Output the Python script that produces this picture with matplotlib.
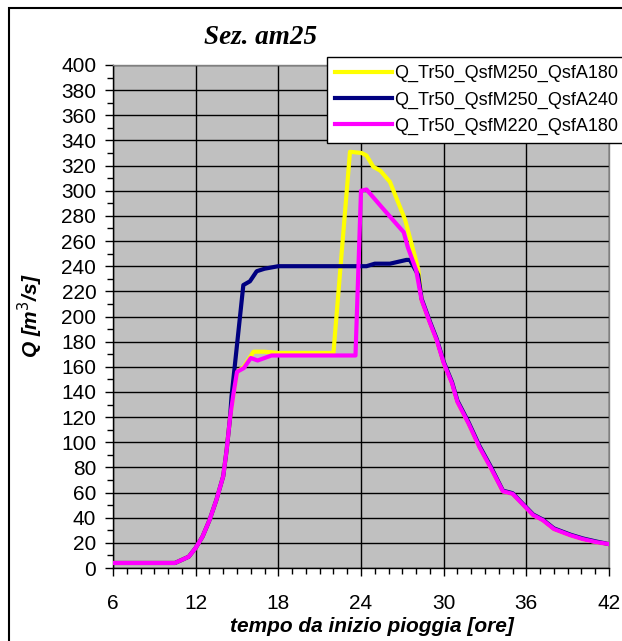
import matplotlib
matplotlib.use("Agg")
import matplotlib.pyplot as plt
from matplotlib.patches import Rectangle
from matplotlib.ticker import MultipleLocator

# ---- data ----
t_mag = [6, 10.5, 11.5, 12, 12.5, 13, 13.5, 14, 14.25, 14.5, 14.75, 15, 15.5, 16, 16.5, 17, 17.5,
         23.6, 24, 24.4, 25.5, 25.9, 27.1, 27.4, 28, 28.4, 29, 29.5, 30, 30.6, 31, 31.8, 32.6,
         33.4, 34.3, 35, 36.5, 37.2, 38, 39.2, 40.1, 41.1, 42]
q_mag = [4, 4, 9, 16, 25, 38, 54, 73, 94, 120, 139, 156, 159, 167, 165, 167, 169,
         169, 300, 301, 287, 282, 267, 255, 237, 213, 195, 181, 163, 147, 132, 115, 96,
         80, 61, 59, 42, 38, 31, 26, 23, 20.5, 19]

t_nav = [6, 10.5, 11.5, 12, 12.5, 13, 13.5, 14, 14.25, 14.5, 14.6, 15.46, 15.94, 16.43, 17, 18,
         24.4, 25, 26.1, 27.3, 27.55, 28.15, 28.4, 29, 29.5, 30, 30.6, 31, 31.8, 32.6,
         33.4, 34.3, 35, 36.5, 37.2, 38, 39.2, 40.1, 41.1, 42]
q_nav = [4, 4, 9, 16, 25, 38, 54, 73, 94, 120, 136, 225, 228, 236, 238, 240,
         240, 242, 242, 245, 245, 233, 214, 196, 182, 164, 148, 133, 116, 97,
         81, 61.5, 59.5, 42.5, 38.5, 31.5, 26.5, 23.5, 21, 19]

t_yel = [6, 10.5, 11.5, 12, 12.5, 13, 13.5, 14, 14.25, 14.5, 14.75, 15, 15.5, 16.2, 17, 18,
         22, 23.2, 24.05, 24.4, 24.9, 25.4, 26.1, 27.2, 28.15, 28.4, 29, 29.5, 30, 30.6, 31,
         31.8, 32.6, 33.4, 34.3, 35, 36.5, 37.2, 38, 39.2, 40.1, 41.1, 42]
q_yel = [4, 4, 9, 16, 25, 38, 54, 73, 94, 120, 139, 156, 160, 172, 172, 171,
         171, 331, 330, 328, 319, 316, 307, 277, 238, 213, 195, 181, 163, 147, 132,
         115, 96, 80, 61, 59, 42, 38, 31, 26, 23, 20.5, 19]

labels = ["Q_Tr50_QsfM250_QsfA180", "Q_Tr50_QsfM250_QsfA240", "Q_Tr50_QsfM220_QsfA180"]
x_ticks = [6, 12, 18, 24, 30, 36, 42]
y_ticks = list(range(0, 401, 20))

W, H = 622, 641
fig = plt.figure(figsize=(W / 100, H / 100), dpi=100)
fig.patch.set_facecolor("white")
ax = fig.add_axes([113 / W, 1 - 568 / H, (609 - 113) / W, (568 - 65) / H])
ax.set_facecolor("#C0C0C0")

ax.plot(t_yel, q_yel, color="#FFFF00", lw=3, label=labels[0], solid_joinstyle="round", zorder=3)
ax.plot(t_nav, q_nav, color="#000080", lw=3, label=labels[1], solid_joinstyle="round", zorder=4)
ax.plot(t_mag, q_mag, color="#FF00FF", lw=3, label=labels[2], solid_joinstyle="round", zorder=5)

ax.set_xlim(6, 42)
ax.set_ylim(0, 400)
ax.set_xticks(x_ticks)
ax.set_yticks(y_ticks)
ax.xaxis.set_minor_locator(MultipleLocator(1))
ax.yaxis.set_minor_locator(MultipleLocator(10))
ax.grid(True, which="major", color="black", lw=1)
ax.set_axisbelow(True)
ax.tick_params(axis="both", which="major", direction="out", length=6, width=1, labelsize=15, colors="black")
ax.tick_params(axis="both", which="minor", direction="out", length=4, width=1)
ax.tick_params(axis="x", which="major", pad=13)
ax.tick_params(axis="y", which="major", pad=6)
for lab in ax.get_xticklabels() + ax.get_yticklabels():
    lab.set_fontfamily("Liberation Sans")
for s in ["left", "bottom"]:
    ax.spines[s].set_color("black")
    ax.spines[s].set_linewidth(1)
for s in ["top", "right"]:
    ax.spines[s].set_color("#808080")
    ax.spines[s].set_linewidth(1)

fig.text(372 / W, 1 - 626 / H, "tempo da inizio pioggia [ore]", ha="center", va="center",
         fontsize=15, fontweight="bold", fontstyle="italic", family="Liberation Sans")
fig.text(30 / W, 1 - 316 / H, "Q [m$^3$/s]", ha="center", va="center", rotation=90,
         fontsize=15, fontweight="bold", fontstyle="italic", family="Liberation Sans")
fig.text(261 / W, 1 - 38 / H, "Sez. am25", ha="center", va="center",
         fontsize=19.5, fontweight="bold", fontstyle="italic", family="Liberation Serif")

leg = ax.legend(loc="upper left", bbox_to_anchor=(327 / W, 1 - 57 / H), bbox_transform=fig.transFigure,
                borderaxespad=0, frameon=True, fancybox=False, framealpha=1, edgecolor="black",
                prop={"family": "Liberation Sans", "size": 13}, handlelength=3.15, handletextpad=0.1,
                labelspacing=0.5, borderpad=0.45)
leg.get_frame().set_linewidth(1)
leg.set_zorder(10)

fig.patches.append(Rectangle((9 / W, -0.1), 2, 1.1 - 8 / H, transform=fig.transFigure,
                             fill=False, edgecolor="black", lw=1.5))

fig.savefig("out.png", dpi=100)
